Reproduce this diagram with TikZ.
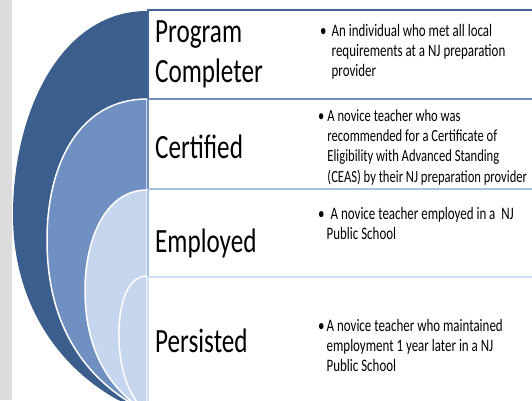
\documentclass[tikz,border=0pt]{standalone}
\usepackage{fontspec}
\setmainfont[FakeStretch=0.74]{Carlito}
\usetikzlibrary{positioning}
\definecolor{arcA}{HTML}{3B5E8D}
\definecolor{arcB}{HTML}{7090C2}
\definecolor{arcC}{HTML}{C5D6EE}
\definecolor{bordA}{HTML}{42649A}
\definecolor{bordB}{HTML}{6F8DBB}
\definecolor{bordC}{HTML}{A9C1E1}
\definecolor{bordD}{HTML}{D2E0F1}
\definecolor{stripgray}{HTML}{DCDCDC}
\tikzstyle{panel}=[rectangle,fill=white,line width=1.6pt,anchor=north west,minimum width=400,inner sep=0]
\tikzstyle{head}=[inner sep=0,font=\fontsize{34}{40}\selectfont]
\tikzstyle{desc}=[inner sep=0,anchor=west,font=\fontsize{17.5}{20}\selectfont]
\tikzstyle{sep}=[draw=white,line width=1.5pt]

\begin{document}
\begin{tikzpicture}[x=1pt,y=-1pt]
	\def \xp {147};
	\def \xh {155};
	\def \xd {318};
	\useasboundingbox (0,0) rectangle (532,400);
	\clip (0,0) rectangle (532,400);
	\fill[white] (0,0) rectangle (532,400);
	\fill[stripgray] (0,0) rectangle (12,400);

	% nested arcs, outer to inner
	\fill[arcA] (\xp,11) .. controls (62,11) and (13,110) .. (13,215)
		.. controls (13,300) and (55,365) .. (118,400) -- (\xp,410) -- cycle;
	\filldraw[arcB,sep] (\xp,99) .. controls (82,99) and (47,160) .. (47,240)
		.. controls (47,320) and (80,370) .. (126,400) -- (\xp,410) -- cycle;
	\filldraw[arcC,sep] (\xp,190) .. controls (105,190) and (85,240) .. (85,290)
		.. controls (85,345) and (105,380) .. (132,402) -- (\xp,410) -- cycle;
	\filldraw[arcC,sep] (\xp,276) .. controls (125,276) and (118,310) .. (119,340)
		.. controls (120,370) and (128,390) .. (137,402) -- (\xp,410) -- cycle;

	% panels
	\foreach \i/\ytop/\hgt/\col in {1/9/89/bordA, 2/98/90/bordB, 3/188/88/bordC, 4/276/140/bordD} {
		\node[panel, draw=\col, minimum height=\hgt] (panel\i) at (\xp,\ytop) {};
	};

	% headings
	\node[head, anchor=west] (name1) at (\xh,54) {\begin{tabular}{@{}l@{}}Program\\Completer\end{tabular}};
	\node[head, anchor=base west] (name2) at (\xh,158) {Certified};
	\node[head, anchor=base west] (name3) at (\xh,252) {Employed};
	\node[head, anchor=base west] (name4) at (\xh,352) {Persisted};

	% descriptions
	\node[desc] (text1) at (\xd+2,52) {\begin{tabular}{@{}l@{\hspace{5pt}}l@{}}
		\textbullet & An individual who met all local\\
		& requirements at a NJ preparation\\
		& provider\end{tabular}};
	\node[desc, font=\fontsize{17}{20.3}\selectfont] (text2) at (\xd,147.5) {\begin{tabular}{@{}l@{\hspace{3pt}}l@{}}
		\textbullet & A novice teacher who was\\
		& recommended for a Certificate of\\
		& Eligibility with Advanced Standing\\
		& (CEAS) by their NJ preparation provider\end{tabular}};
	\node[desc] (text3) at (\xd,225.5) {\begin{tabular}{@{}l@{\hspace{2pt}}l@{}}
		\textbullet & \hspace{4pt}A novice teacher employed in a\ \ NJ\\
		& Public School\end{tabular}};
	\node[desc] (text4) at (\xd,347) {\begin{tabular}{@{}l@{\hspace{2pt}}l@{}}
		\textbullet & A novice teacher who maintained\\
		& employment 1 year later in a NJ\\
		& Public School\end{tabular}};
\end{tikzpicture}
\end{document}
